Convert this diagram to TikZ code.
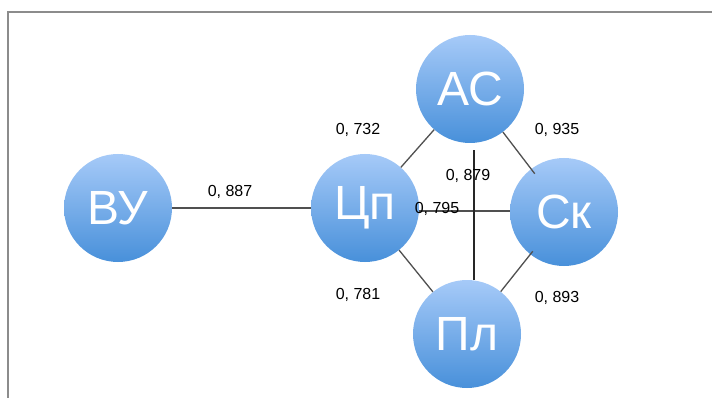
\documentclass[tikz,border=0pt]{standalone}
\usepackage{fontspec}
\setmainfont{Liberation Sans}
\usetikzlibrary{calc}
\definecolor{toptone}{RGB}{166,202,248}
\definecolor{bottone}{RGB}{72,144,218}
\definecolor{edgegray}{RGB}{80,80,80}
\definecolor{framegray}{RGB}{140,140,140}
\begin{document}
\begin{tikzpicture}[x=1pt,y=-1pt,
  vert/.style={circle, minimum size=108pt, inner sep=0pt, top color=toptone, bottom color=bottone,
    draw=none, text=white, font=\fontsize{48}{48}\selectfont},
  link/.style={draw=edgegray, line width=1.3pt},
  wlabel/.style={font=\fontsize{16}{16}\selectfont, text=black, inner sep=0pt}]
\useasboundingbox (0,0) rectangle (712,398);
\fill[white] (0,0) rectangle (712,398);
% frame
\draw[framegray, line width=1.5pt] (8,398) -- (8,12) -- (712,12);
% nodes
\node[vert] (VU) at (118,208) {ВУ};
\node[vert] (Cp) at (365,208) {Цп};
\node[vert] (AS) at (470,89) {АС};
\node[vert] (Sk) at (564,212) {Ск};
\node[vert] (Pl) at (467,334) {Пл};
% links
\draw[link] (VU) -- (Cp);
\draw[link] (Cp) -- (AS);
\draw[link, shorten >=-6pt] (AS) -- (Sk);
\draw[link] (Cp) -- (Pl);
\draw[link, shorten <=-4pt] (Sk) -- (Pl);
\draw[link] ([yshift=-3pt]Cp.east) -- ([yshift=1pt]Sk.west);
\draw[draw=black!85, line width=2pt] ([xshift=4pt,yshift=-7pt]AS.south) -- ([xshift=7pt]Pl.north);
% labels
\node[wlabel] (l1) at (230,192) {0, 887};
\node[wlabel] (l2) at (358,130) {0, 732};
\node[wlabel] (l3) at (557,130) {0, 935};
\node[wlabel] (l4) at (468,176) {0, 879};
\node[wlabel] (l5) at (437,209) {0, 795};
\node[wlabel] (l6) at (358,295) {0, 781};
\node[wlabel] (l7) at (557,298) {0, 893};
\end{tikzpicture}
\end{document}
